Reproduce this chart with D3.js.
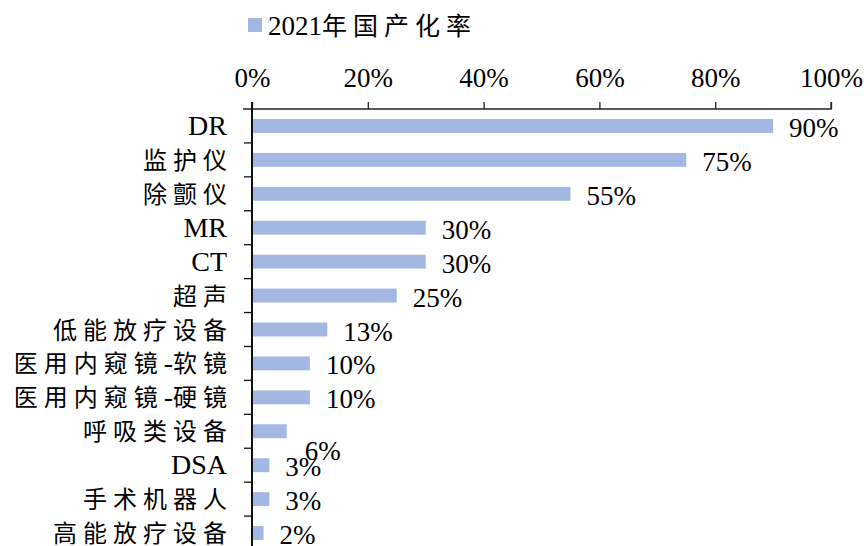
<!DOCTYPE html>
<html>
<head>
<meta charset="utf-8">
<script src="https://cdn.jsdelivr.net/npm/d3@7"></script>
<style>
  body { margin: 0; background: #fff; }
  svg { display: block; }
</style>
</head>
<body>
<div class="container"></div>
<script>
const width = 864;
const height = 546;
const margin = { top: 109, left: 252, right: 33, bottom: -4 };

const categories = ["DR", "监护仪", "除颤仪", "MR", "CT", "超声", "低能放疗设备",
  "医用内窥镜-软镜", "医用内窥镜-硬镜", "呼吸类设备", "DSA", "手术机器人", "高能放疗设备"];
const values = [0.90, 0.75, 0.55, 0.30, 0.30, 0.25, 0.13, 0.10, 0.10, 0.06, 0.03, 0.03, 0.02];
const valueLabels = ["90%", "75%", "55%", "30%", "30%", "25%", "13%", "10%", "10%", "6%", "3%", "3%", "2%"];
const xTicks = [0, 0.2, 0.4, 0.6, 0.8, 1.0];
const seriesName = "2021年国产化率";

const barColor = "#a2b7e1";
const latinFont = "'Liberation Serif', 'Times New Roman', serif";
const cjkFont = "'Noto Sans CJK SC', sans-serif";
const cjkRe = /[\u3400-\u9fff]/;

// split text into runs so latin and CJK get their own font
function richText(sel, str, latinSize, cjkSize, spacing) {
  const runs = [];
  for (const ch of str) {
    const isCjk = cjkRe.test(ch);
    if (runs.length && runs[runs.length - 1].cjk === isCjk) runs[runs.length - 1].t += ch;
    else runs.push({ t: ch, cjk: isCjk });
  }
  runs.forEach(r => {
    sel.append("tspan")
      .attr("font-family", r.cjk ? cjkFont : latinFont)
      .attr("font-size", r.cjk ? cjkSize : latinSize)
      .attr("letter-spacing", r.cjk ? spacing : 0)
      .text(r.t);
  });
}

const svg = d3.select(".container")
  .append("svg")
  .attr("width", width)
  .attr("height", height);

const xScale = d3.scaleLinear()
  .domain([0, 1])
  .range([margin.left, width - margin.right]);

const yScale = d3.scaleBand()
  .domain(categories)
  .range([margin.top, height - margin.bottom])
  .paddingInner(0.59)
  .paddingOuter(0.295);

const half = (yScale.step() - yScale.bandwidth()) / 2;

// legend
svg.append("rect")
  .attr("x", 248).attr("y", 18)
  .attr("width", 14).attr("height", 14)
  .attr("fill", barColor);
const legendText = svg.append("text")
  .attr("x", 268).attr("y", 35)
  .attr("fill", "#000");
richText(legendText, seriesName, 27, 25, 6);

// x axis on top
const xAxis = d3.axisTop(xScale)
  .tickValues(xTicks)
  .tickSize(7)
  .tickPadding(15)
  .tickFormat(d3.format(".0%"));

const gx = svg.append("g")
  .attr("transform", `translate(0, ${margin.top})`)
  .call(xAxis);
gx.select(".domain").attr("d", `M${margin.left - 9},0H${xScale(1)}V-7`)
  .attr("stroke", "#222").attr("stroke-width", 1.3);
gx.selectAll(".tick line").attr("stroke", "#222").attr("stroke-width", 1.3);
gx.selectAll(".tick text")
  .attr("font-family", latinFont)
  .attr("font-size", 27)
  .attr("fill", "#000");

// y axis line with boundary ticks
const gy = svg.append("g");
gy.append("line")
  .attr("x1", xScale(0)).attr("x2", xScale(0))
  .attr("y1", margin.top - 7).attr("y2", height)
  .attr("stroke", "#111").attr("stroke-width", 2);
gy.selectAll(".btick")
  .data(categories)
  .join("line")
  .attr("class", "btick")
  .attr("x1", xScale(0) - 8).attr("x2", xScale(0))
  .attr("y1", d => yScale(d) + yScale.bandwidth() + half)
  .attr("y2", d => yScale(d) + yScale.bandwidth() + half)
  .attr("stroke", "#111").attr("stroke-width", 1.3);

// category labels
categories.forEach(c => {
  const t = svg.append("text")
    .attr("x", 227)
    .attr("y", yScale(c) + yScale.bandwidth() / 2 + 9)
    .attr("text-anchor", "end")
    .attr("fill", "#000");
  richText(t, c, 28, 24, 6);
  // letter-spacing adds trailing space after last CJK glyph
  if (cjkRe.test(c.slice(-1))) t.attr("dx", 6);
});

// bars
svg.selectAll(".bar")
  .data(categories)
  .join("rect")
  .attr("class", "bar")
  .attr("x", xScale(0) + 1)
  .attr("y", d => yScale(d))
  .attr("width", (d, i) => xScale(values[i]) - xScale(0) - 1)
  .attr("height", yScale.bandwidth())
  .attr("fill", barColor);

// value labels (the 6% label sits lower in the original)
svg.selectAll(".val")
  .data(categories)
  .join("text")
  .attr("class", "val")
  .attr("x", (d, i) => xScale(values[i]) + 16 + (d === "呼吸类设备" ? 2 : 0))
  .attr("y", (d, i) => yScale(d) + yScale.bandwidth() / 2 + 11 + (d === "呼吸类设备" ? 18 : 0))
  .attr("font-family", latinFont)
  .attr("font-size", 27)
  .attr("fill", "#000")
  .text((d, i) => valueLabels[i]);
</script>
</body>
</html>
